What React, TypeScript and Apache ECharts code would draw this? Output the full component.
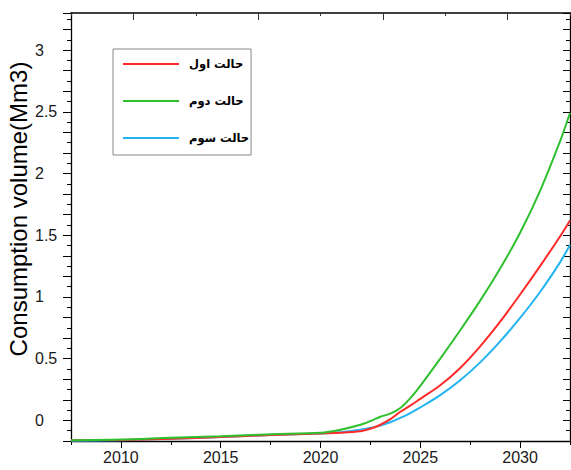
import React, { useEffect, useRef } from 'react';
import * as echarts from 'echarts';

const years = [2007.5, 2010, 2012.5, 2015, 2017.5, 2020, 2021, 2022, 2022.5, 2023, 2023.5, 2024, 2024.5, 2025, 2026, 2027, 2028, 2029, 2030, 2031, 2032, 2032.5];
const scenario1 = [-0.16, -0.158, -0.148, -0.135, -0.118, -0.105, -0.1, -0.088, -0.068, -0.035, 0.01, 0.07, 0.12, 0.175, 0.285, 0.425, 0.6, 0.8, 1.02, 1.25, 1.49, 1.62];
const scenario2 = [-0.16, -0.155, -0.14, -0.128, -0.112, -0.1, -0.075, -0.035, -0.005, 0.03, 0.055, 0.1, 0.18, 0.28, 0.5, 0.73, 0.97, 1.23, 1.52, 1.86, 2.26, 2.49];
const scenario3 = [-0.165, -0.16, -0.148, -0.135, -0.118, -0.105, -0.095, -0.075, -0.06, -0.042, -0.015, 0.02, 0.06, 0.105, 0.205, 0.325, 0.47, 0.64, 0.83, 1.04, 1.28, 1.42];
const seriesNames = ['حالت اول', 'حالت دوم', 'حالت سوم'];
const seriesColors = ['#ff2a2a', '#2ec02e', '#22b4f0'];
const xTickLabels = ['2010', '2015', '2020', '2025', '2030'];
const yTickLabels = [0, 0.5, 1, 1.5, 2, 2.5, 3];
const topSlots = ['', '', '', ''];
const yTitle = 'Consumption volume(Mm3)';

export default function App() {
  const ref = useRef<HTMLDivElement>(null);
  useEffect(() => {
    const chart = echarts.init(ref.current as HTMLDivElement, null, { renderer: 'svg' });
    const pair = (vals: number[]) => years.map((y, i) => [y, vals[i]]);
    const black = '#000';
    const font = 'Liberation Sans, Arial, sans-serif';
    const yFormatter = (v: number) => {
      const hit = yTickLabels.find((t) => Math.abs(t - v) < 1e-6);
      return hit === undefined ? '' : String(hit);
    };
    const yBase = {
      type: 'value',
      min: -1 / 6,
      max: 3.3,
      interval: 1 / 6,
      splitLine: { show: false },
      minorSplitLine: { show: false },
      axisLine: { show: true, onZero: false, lineStyle: { color: black, width: 1.3 } },
    };
    chart.setOption({
      animation: false,
      grid: { left: 71, right: 1, top: 13, bottom: 29, containLabel: false },
      xAxis: [
        {
          type: 'value', position: 'bottom', min: 2007.5, max: 2032.5, interval: 2.5,
          axisLine: { show: true, onZero: false, lineStyle: { color: black, width: 1.3 } },
          axisTick: { show: true, inside: false, length: 4, lineStyle: { color: black } },
          axisLabel: { show: false }, splitLine: { show: false },
        },
        {
          type: 'category', position: 'bottom', data: xTickLabels, boundaryGap: true,
          axisLine: { show: false, onZero: false },
          axisTick: { show: true, alignWithLabel: true, interval: 0, length: 7, lineStyle: { color: black } },
          axisLabel: { show: true, interval: 0, fontSize: 16, color: '#1a1a1a', margin: 8, fontFamily: font },
          splitLine: { show: false },
        },
        {
          type: 'category', position: 'top', data: topSlots, boundaryGap: true,
          axisLine: { show: true, onZero: false, lineStyle: { color: black, width: 1.6 } },
          axisTick: { show: true, alignWithLabel: true, interval: 0, inside: true, length: 7, lineStyle: { color: '#333' } },
          axisLabel: { show: false }, splitLine: { show: false },
        },
        {
          type: 'category', position: 'top', data: topSlots, boundaryGap: true,
          axisLine: { show: false, onZero: false },
          axisTick: { show: true, alignWithLabel: false, interval: 0, inside: true, length: 3, lineStyle: { color: '#333' } },
          axisLabel: { show: false }, splitLine: { show: false },
        },
      ],
      yAxis: [
        {
          ...yBase, position: 'left',
          axisTick: { show: true, inside: false, length: 8, lineStyle: { color: black } },
          minorTick: { show: true, splitNumber: 2, length: 4, lineStyle: { color: black } },
          axisLabel: { show: true, formatter: yFormatter, fontSize: 16, color: '#1a1a1a', align: 'left', margin: 36, fontFamily: font },
        },
        {
          ...yBase, position: 'right',
          axisTick: { show: true, inside: true, length: 7, lineStyle: { color: black } },
          minorTick: { show: true, splitNumber: 2, length: 4, lineStyle: { color: black } },
          axisLabel: { show: false },
        },
      ],
      legend: {
        orient: 'vertical', left: 113, top: 49,
        icon: 'rect',
        itemWidth: 56, itemHeight: 2, itemGap: 23,
        padding: [8, 2, 10, 10],
        borderColor: '#888', borderWidth: 1,
        textStyle: { fontFamily: 'DejaVu Sans, sans-serif', fontWeight: 'bold', fontSize: 11.5, lineHeight: 14, color: '#000', padding: [0, 0, 0, 5] },
        data: seriesNames,
      },
      graphic: [
        {
          type: 'text', x: 18, y: 209, rotation: Math.PI / 2,
          style: { text: yTitle, fontSize: 24, fontFamily: font, fill: '#000', align: 'center', verticalAlign: 'middle' },
        },
      ],
      series: [scenario1, scenario2, scenario3].map((vals, i) => ({
        name: seriesNames[i],
        type: 'line',
        xAxisIndex: 0,
        yAxisIndex: 0,
        data: pair(vals),
        symbol: 'none',
        smooth: 0.3,
        z: i === 1 ? 4 : i === 0 ? 3 : 2,
        lineStyle: { color: seriesColors[i], width: 2 },
        itemStyle: { color: seriesColors[i] },
      })),
    });
    return () => chart.dispose();
  }, []);
  return <div ref={ref} style={{ position: 'absolute', left: 0, top: 0, width: 571, height: 470 }} />;
}
